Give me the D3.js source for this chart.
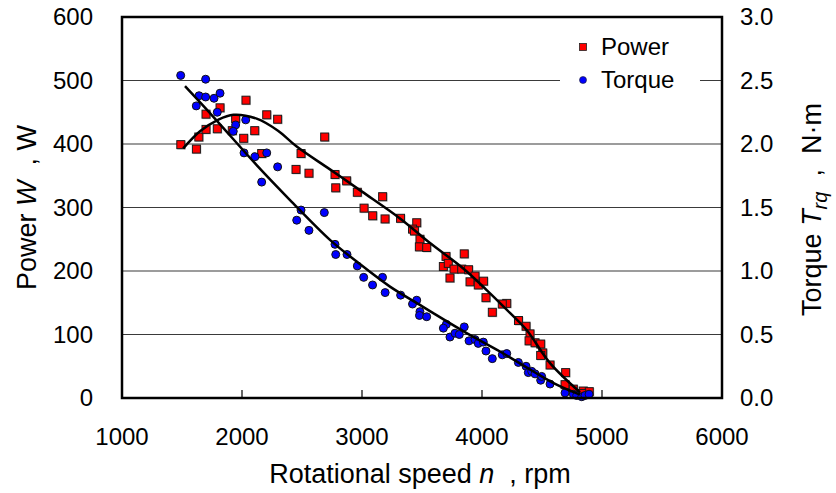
<!DOCTYPE html>
<html>
<head>
<meta charset="utf-8">
<script src="https://cdn.jsdelivr.net/npm/d3@7"></script>
<style>
  body { margin: 0; background: #fff; }
  svg { font-family: "Liberation Sans", Arial, sans-serif; }
</style>
</head>
<body>
<svg id="chart" width="836" height="493"></svg>
<script>
// power readings (rpm, W)
const powerRpm = [1490, 1620, 1640, 1700, 1700, 1794, 1817, 1947, 1919, 2033, 2014, 2106, 2206, 2297, 2164,
  2492, 2689, 2450, 2558, 2775, 2781, 2872, 2961, 3172, 3017, 3089, 3192, 3321, 3456, 3421, 3437, 3483, 3478,
  3539, 3700, 3852, 3678, 3719, 3767, 3831, 3888, 3942, 3733, 3900, 3969, 4013, 4033, 4206, 4169, 4086, 4304,
  4367, 4400, 4392, 4442, 4489, 4506, 4489, 4567, 4697, 4692, 4761, 4844, 4894, 4831];
const powerW = [399, 392, 411, 423, 447, 424, 457, 440, 421, 469, 409, 421, 446, 439, 385,
  385, 411, 360, 354, 352, 331, 342, 324, 317, 299, 287, 282, 283, 276, 266, 263, 250, 238,
  237, 223, 227, 207, 212, 203, 203, 202, 192, 189, 183, 178, 184, 158, 149, 148, 135, 122,
  113, 101, 90, 87, 85, 71, 67, 52, 40, 21, 14, 11, 10, 7];

// torque readings (rpm, N·m)
const torqueRpm = [1489, 1697, 1642, 1697, 1767, 1817, 1619, 1794, 2031, 1947, 1927, 2017, 2108, 2206, 2297,
  2164, 2492, 2686, 2456, 2558, 2775, 2781, 2875, 2961, 3014, 3171, 3088, 3193, 3322, 3456, 3421, 3483, 3479,
  3539, 3703, 3852, 3678, 3733, 3775, 3811, 3892, 3942, 3969, 4011, 4033, 4086, 4169, 4206, 4303, 4367, 4386,
  4414, 4442, 4489, 4497, 4567, 4692, 4761, 4789, 4831, 4858, 4892];
const torqueNm = [2.54, 2.51, 2.38, 2.37, 2.36, 2.40, 2.30, 2.25, 2.19, 2.15, 2.10, 1.93, 1.90, 1.93, 1.82,
  1.70, 1.48, 1.46, 1.40, 1.32, 1.21, 1.13, 1.13, 1.04, 0.95, 0.95, 0.89, 0.83, 0.81, 0.77, 0.74, 0.68, 0.65,
  0.64, 0.58, 0.56, 0.55, 0.48, 0.51, 0.50, 0.45, 0.46, 0.43, 0.44, 0.37, 0.31, 0.34, 0.35, 0.28, 0.25, 0.20,
  0.21, 0.19, 0.14, 0.17, 0.11, 0.04, 0.03, 0.02, 0.01, 0.02, 0.03];

// trend lines
const powerFitRpm = [1510, 1650, 1800, 1928, 2122, 2300, 2456, 2733, 3000, 3322, 3567, 3844, 4039, 4233, 4372, 4567, 4817];
const powerFitW = [393, 420, 438, 446, 440, 421, 396, 360, 325, 282, 244, 204, 170, 134, 107, 55, 9];
const torqueFitRpm = [1525, 1761, 2122, 2400, 2733, 2956, 3233, 3483, 3594, 3872, 4150, 4428, 4622, 4817];
const torqueFitNm = [2.455, 2.214, 1.834, 1.559, 1.245, 1.074, 0.877, 0.733, 0.668, 0.511, 0.366, 0.209, 0.105, 0.026];

const xTicks = [1000, 2000, 3000, 4000, 5000, 6000];
const powerTicks = [0, 100, 200, 300, 400, 500, 600];
const torqueTicks = [0, 0.5, 1.0, 1.5, 2.0, 2.5, 3.0];

const plotL = 122, plotR = 722, plotT = 17, plotB = 398;

const svg = d3.select("#chart");

const x = d3.scaleLinear().domain([1000, 6000]).range([plotL, plotR]);
const yP = d3.scaleLinear().domain([0, 600]).range([plotB, plotT]);
const yT = d3.scaleLinear().domain([0, 3]).range([plotB, plotT]);

// gridlines
svg.append("g")
  .selectAll("line")
  .data(powerTicks.filter(d => d > 0 && d < 600))
  .join("line")
  .attr("x1", plotL).attr("x2", plotR)
  .attr("y1", d => yP(d)).attr("y2", d => yP(d))
  .attr("stroke", "#3a3a3a").attr("stroke-width", 1.2);

// x ticks, inward
svg.append("g")
  .selectAll("line")
  .data(xTicks.slice(1, -1))
  .join("line")
  .attr("x1", d => x(d)).attr("x2", d => x(d))
  .attr("y1", plotB).attr("y2", plotB - 8)
  .attr("stroke", "#000").attr("stroke-width", 1.2);

// tick labels
svg.append("g")
  .attr("font-size", 24)
  .attr("text-anchor", "middle")
  .selectAll("text")
  .data(xTicks)
  .join("text")
  .attr("x", d => x(d))
  .attr("y", 445)
  .text(d => d);

svg.append("g")
  .attr("font-size", 24)
  .attr("text-anchor", "end")
  .selectAll("text")
  .data(powerTicks)
  .join("text")
  .attr("x", 93)
  .attr("y", d => yP(d))
  .attr("dy", "0.35em")
  .text(d => d);

svg.append("g")
  .attr("font-size", 24)
  .attr("text-anchor", "start")
  .selectAll("text")
  .data(torqueTicks)
  .join("text")
  .attr("x", 740)
  .attr("y", d => yT(d))
  .attr("dy", "0.35em")
  .text(d => d3.format(".1f")(d));

// axis titles
const xt = svg.append("text")
  .attr("x", (plotL + plotR) / 2 - 2)
  .attr("y", 483)
  .attr("font-size", 27)
  .attr("text-anchor", "middle")
  .attr("xml:space", "preserve");
xt.append("tspan").text("Rotational speed ");
xt.append("tspan").attr("font-style", "italic").text("n");
xt.append("tspan").text("  , rpm");

const yt = svg.append("text")
  .attr("transform", `translate(36,${(plotT + plotB) / 2}) rotate(-90)`)
  .attr("font-size", 27)
  .attr("text-anchor", "middle")
  .attr("xml:space", "preserve");
yt.append("tspan").text("Power ");
yt.append("tspan").attr("font-style", "italic").text("W");
yt.append("tspan").text("  , W");

const rt = svg.append("text")
  .attr("transform", `translate(821,${(plotT + plotB) / 2 + 2}) rotate(-90)`)
  .attr("font-size", 27)
  .attr("text-anchor", "middle")
  .attr("xml:space", "preserve");
rt.append("tspan").text("Torque ");
rt.append("tspan").attr("font-style", "italic").text("T");
rt.append("tspan").attr("font-style", "italic").attr("font-size", 20).attr("dy", 6).text("rq");
rt.append("tspan").attr("dy", -6).text("  ,  N\u00b7m");

// legend
svg.append("rect")
  .attr("x", 560).attr("y", 26).attr("width", 140).attr("height", 72)
  .attr("fill", "#fff");
svg.append("rect")
  .attr("x", 579.5).attr("y", 43.5).attr("width", 7).attr("height", 7)
  .attr("fill", "#ff0000").attr("stroke", "#222").attr("stroke-width", 0.8);
svg.append("circle")
  .attr("cx", 583).attr("cy", 80).attr("r", 3.5)
  .attr("fill", "#0000ff").attr("stroke", "#222").attr("stroke-width", 0.6);
svg.append("text").attr("x", 601).attr("y", 55).attr("font-size", 24).text("Power");
svg.append("text").attr("x", 601).attr("y", 88).attr("font-size", 24).text("Torque");

// power squares
const pData = powerRpm.map((r, i) => [r, powerW[i]]);
const pts = svg.append("g");
pts.selectAll("rect.shadow")
  .data(pData)
  .join("rect")
  .attr("class", "shadow")
  .attr("x", d => x(d[0]) - 3.5).attr("y", d => yP(d[1]) - 3.5)
  .attr("width", 8.5).attr("height", 8.5)
  .attr("fill", "#999").attr("opacity", 0.6);
pts.selectAll("rect.pt")
  .data(pData)
  .join("rect")
  .attr("class", "pt")
  .attr("x", d => x(d[0]) - 4).attr("y", d => yP(d[1]) - 4)
  .attr("width", 8).attr("height", 8)
  .attr("fill", "#ff0000").attr("stroke", "#1a1a1a").attr("stroke-width", 1);

// torque circles
const tData = torqueRpm.map((r, i) => [r, torqueNm[i]]);
svg.append("g")
  .selectAll("circle")
  .data(tData)
  .join("circle")
  .attr("cx", d => x(d[0])).attr("cy", d => yT(d[1]))
  .attr("r", 4)
  .attr("fill", "#0000ff").attr("stroke", "#111").attr("stroke-width", 1);

// trend lines
const lineP = d3.line().x(d => x(d[0])).y(d => yP(d[1])).curve(d3.curveCatmullRom);
const lineT = d3.line().x(d => x(d[0])).y(d => yT(d[1])).curve(d3.curveCatmullRom);
svg.append("path")
  .attr("d", lineP(powerFitRpm.map((r, i) => [r, powerFitW[i]])))
  .attr("fill", "none").attr("stroke", "#000").attr("stroke-width", 2.5);
svg.append("path")
  .attr("d", lineT(torqueFitRpm.map((r, i) => [r, torqueFitNm[i]])))
  .attr("fill", "none").attr("stroke", "#000").attr("stroke-width", 2.5);

// frame
svg.append("rect")
  .attr("x", plotL).attr("y", plotT).attr("width", plotR - plotL).attr("height", plotB - plotT)
  .attr("fill", "none").attr("stroke", "#000").attr("stroke-width", 2.5);
</script>
</body>
</html>
